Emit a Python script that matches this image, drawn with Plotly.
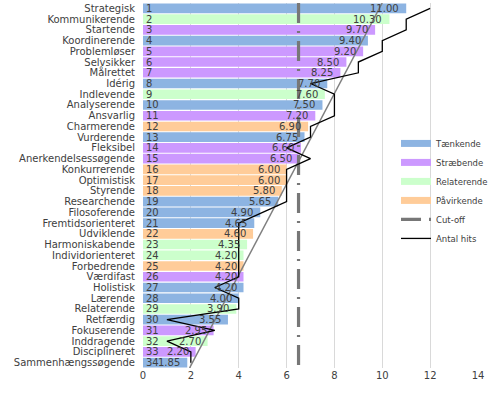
import numpy as np
import plotly.graph_objects as go

labels = ["Strategisk", "Kommunikerende", "Startende", "Koordinerende", "Problemløser",
          "Selvsikker", "Målrettet", "Idérig", "Indlevende", "Analyserende", "Ansvarlig",
          "Charmerende", "Vurderende", "Fleksibel", "Anerkendelsessøgende", "Konkurrerende",
          "Optimistisk", "Styrende", "Researchende", "Filosoferende", "Fremtidsorienteret",
          "Udviklende", "Harmoniskabende", "Individorienteret", "Forbedrende", "Værdifast",
          "Holistisk", "Lærende", "Relaterende", "Retfærdig", "Fokuserende", "Inddragende",
          "Disciplineret", "Sammenhængssøgende"]
values = [11.00, 10.30, 9.70, 9.40, 9.20, 8.50, 8.25, 7.70, 7.60, 7.50, 7.20, 6.90, 6.75,
          6.60, 6.50, 6.00, 6.00, 5.80, 5.65, 4.90, 4.65, 4.60, 4.35, 4.20, 4.20, 4.20,
          4.20, 4.00, 3.90, 3.55, 2.95, 2.70, 2.20, 1.85]
groups = ["T", "R", "S", "T", "S", "S", "S", "T", "R", "T", "S", "P", "T", "S", "S", "P",
          "P", "P", "T", "T", "T", "P", "R", "R", "P", "S", "T", "T", "R", "T", "S", "R",
          "S", "T"]
hits = [12, 11, 11, 10, 10, 9, 9, 7, 8, 8, 8, 7, 7, 6, 7, 6, 6, 6, 6, 5, 4, 4, 4, 4, 4, 4,
        3, 4, 4, 1, 3, 1, 2, 2]
cutoff = 6.5
group_names = {"T": "Tænkende", "S": "Stræbende", "R": "Relaterende", "P": "Påvirkende"}
group_colors = {"T": "#8DB4E2", "S": "#CC99FF", "R": "#CCFFCC", "P": "#FFCC99"}

n = len(labels)
rows = list(range(1, n + 1))
txt_color = "#404040"
font_family = "DejaVu Sans"

fig = go.Figure()

# bars by group, with the rank number inside at the base
for g in ["T", "S", "R", "P"]:
    ys = [r for r, gg in zip(rows, groups) if gg == g]
    xs = [v for v, gg in zip(values, groups) if gg == g]
    fig.add_trace(go.Bar(x=xs, y=ys, orientation="h", marker_color=group_colors[g],
                         marker_line_width=0, width=0.9, showlegend=False,
                         text=[str(r) for r in ys], textposition="inside",
                         insidetextanchor="start", constraintext="none", textangle=0,
                         insidetextfont=dict(size=10, color=txt_color, family=font_family),
                         hoverinfo="skip"))

# trend line (linear fit of bar values)
slope, intercept = np.polyfit(rows, values, 1)
ty = [0.5, n + 0.5]
tx = [slope * y + intercept for y in ty]
fig.add_trace(go.Scatter(x=tx, y=ty, mode="lines", line=dict(color="#7F7F7F", width=1.5),
                         showlegend=False, hoverinfo="skip"))

# cut-off
fig.add_trace(go.Scatter(x=[cutoff, cutoff], y=[0.5, n + 0.5], mode="lines",
                         line=dict(color="#777777", width=3.2, dash="20px,8px,2px,8px"),
                         showlegend=False, hoverinfo="skip"))

# hits
fig.add_trace(go.Scatter(x=hits, y=rows, mode="lines", line=dict(color="#000000", width=1.3),
                         showlegend=False, hoverinfo="skip"))

# legend entries
for g in ["T", "S", "R", "P"]:
    fig.add_trace(go.Scatter(x=[None], y=[None], mode="lines", name=group_names[g],
                             line=dict(color=group_colors[g], width=7)))
fig.add_trace(go.Scatter(x=[None], y=[None], mode="lines", name="Cut-off",
                         line=dict(color="#777777", width=3.2, dash="20px,8px,2px,8px")))
fig.add_trace(go.Scatter(x=[None], y=[None], mode="lines", name="Antal hits",
                         line=dict(color="#000000", width=1.3)))

# value labels at the inside end of each bar
value_annotations = [
    dict(x=v, y=r, xref="x", yref="y", text=f"{v:.2f}", showarrow=False,
         xanchor="right", yanchor="middle", xshift=-5,
         font=dict(size=10, color=txt_color, family=font_family))
    for v, r in zip(values, rows)
]

fig.update_layout(
    width=495, height=394,
    margin=dict(l=143, r=16, t=3, b=26),
    paper_bgcolor="white", plot_bgcolor="white",
    barmode="overlay",
    font=dict(family=font_family, color=txt_color, size=10),
    annotations=value_annotations,
    legend=dict(x=0.753, y=0.655, xanchor="left", yanchor="top",
                bgcolor="rgba(0,0,0,0)", font=dict(size=8.5, color=txt_color),
                itemwidth=30, tracegroupgap=0),
    xaxis=dict(range=[0, 14], dtick=2, tick0=0, showgrid=True, gridcolor="#D9D9D9",
               gridwidth=1, zeroline=False, showline=False, ticks="", automargin=False,
               tickfont=dict(size=10, color=txt_color)),
    yaxis=dict(range=[n + 0.5, 0.5], tickvals=rows, ticktext=labels, showgrid=False,
               zeroline=False, showline=False, ticks="", ticklabelstandoff=7,
               automargin=False, tickfont=dict(size=10, color=txt_color)),
)

fig.write_html("out.html", config={"displayModeBar": False},
               post_script="document.body.style.margin='0';")
